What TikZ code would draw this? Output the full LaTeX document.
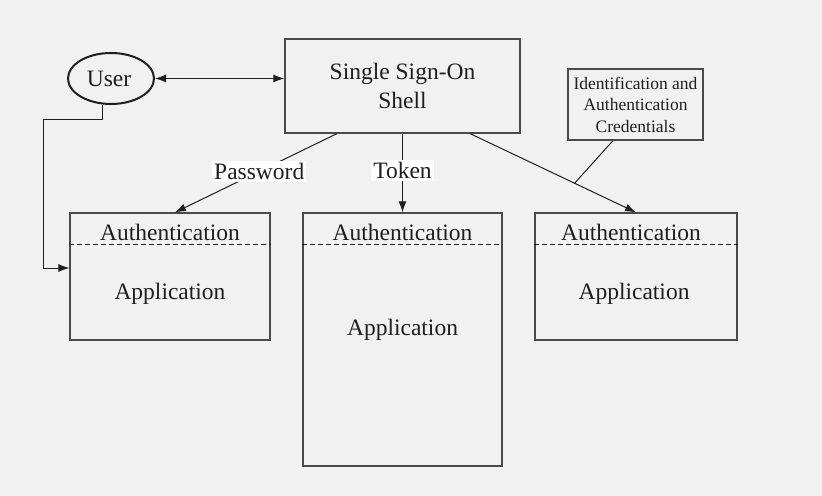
\documentclass[tikz,border=0pt]{standalone}
\usepackage{fontspec}
\setmainfont{Liberation Serif}
\usetikzlibrary{shapes.geometric,arrows.meta}
\definecolor{bg}{HTML}{F1F1F1}
\definecolor{ink}{HTML}{1E1E1E}
\definecolor{edge}{HTML}{4A4A4A}
\tikzset{
    box/.style={draw=edge, line width=0.6pt, rectangle, inner sep=0pt},
    txt/.style={text=ink, inner sep=0pt, anchor=base, font=\fontsize{11.75}{14}\selectfont},
    lab/.style={fill=white, text=ink, inner sep=1pt, font=\fontsize{11.75}{14}\selectfont},
    tip/.style={-{Latex[length=5.5pt,width=4pt]}},
}
\begin{document}
\begin{tikzpicture}[x=0.5pt, y=-0.5pt, line width=0.5pt, draw=ink]
    % 背景
    \useasboundingbox[fill=bg] (0,0) rectangle (822,496);

    % 绘制用户和单点登录外壳
    \node[box, ellipse, line width=1pt, draw=ink, minimum width=43pt, minimum height=25.5pt] (user) at (111,78.5) {};
    \node[txt] (userT) at (109,87) {User};
    \node[box, minimum width=117.5pt, minimum height=47pt, align=center, text=ink,
          font=\fontsize{11.75}{14.5}\selectfont] (shell) at (402.5,86) {Single Sign-On\\Shell};

    % 绘制三个应用
    \node[box, minimum width=100pt, minimum height=63.5pt] (appA) at (170,276.5) {};
    \node[box, minimum width=99.5pt, minimum height=126.5pt] (appB) at (402.5,339.5) {};
    \node[box, minimum width=101pt, minimum height=63.5pt] (appC) at (636,276.5) {};
    \foreach \a in {appA,appB,appC}
        \draw[dashed, dash pattern=on 2.5pt off 1.5pt] ([yshift=-16pt]\a.north west) -- ([yshift=-16pt]\a.north east);

    \node[txt] (authA) at (170,241) {Authentication};
    \node[txt] (authB) at (402.5,241) {Authentication};
    \node[txt] (authC) at (631,241) {Authentication};
    \node[txt] (appTA) at (170,299) {Application};
    \node[txt] (appTB) at (402.5,335) {Application};
    \node[txt] (appTC) at (634,299) {Application};

    % 绘制凭证框
    \node[box, minimum width=67.5pt, minimum height=35.5pt, align=center, text=ink,
          font=\fontsize{8.75}{10.75}\selectfont] (cred) at (635.5,104.5)
          {Identification and\\Authentication\\Credentials};

    % 绘制连接线
    \draw[{Latex[length=5.5pt,width=4pt]}-{Latex[length=5.5pt,width=4pt]}] (user.east) -- (user.east -| shell.west);
    \coordinate (turn) at (43,120);
    \draw[tip] ([xshift=-4.5pt]user.south) |- (turn) |- ([yshift=4.25pt]appA.west);
    \draw[tip] ([xshift=-32.75pt]shell.south) -- node[lab, pos=0.48] (pw) {Password} ([xshift=2.5pt]appA.north);
    \draw[tip] (shell.south) -- node[lab, pos=0.47] (tok) {Token} (appB.north);
    \draw[tip] ([xshift=33.75pt]shell.south) -- coordinate[pos=0.63] (hit) (appC.north);
    \draw ([xshift=-11.25pt]cred.south) -- (hit);
\end{tikzpicture}
\end{document}
